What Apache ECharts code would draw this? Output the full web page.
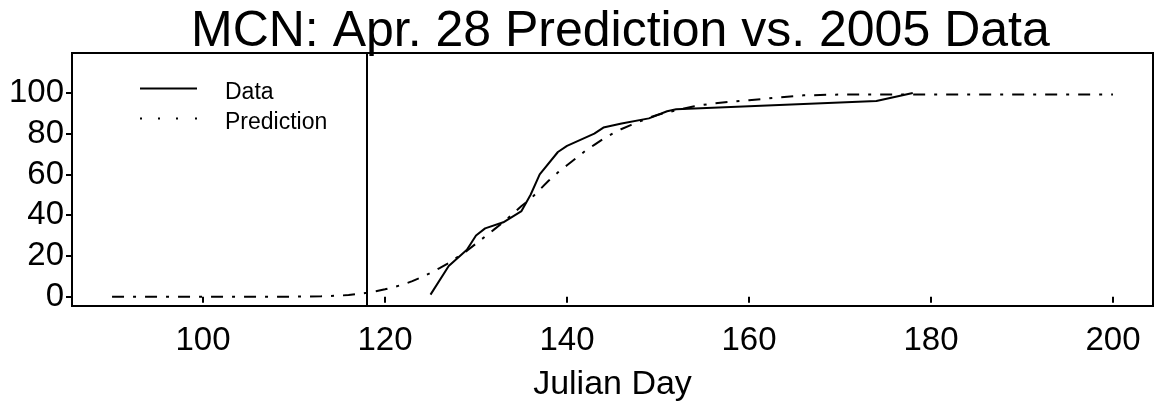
<!DOCTYPE html>
<html>
<head>
<meta charset="utf-8">
<script src="https://cdn.jsdelivr.net/npm/echarts@6/dist/echarts.min.js"></script>
<style>
  html, body { margin: 0; padding: 0; background: #fff; }
  #chart { width: 1158px; height: 412px; }
</style>
</head>
<body>
<div id="chart"></div>
<script>
// ---- data ----
const titleText = 'MCN: Apr. 28 Prediction vs. 2005 Data';
const xAxisTitle = 'Julian Day';
const seriesNames = ['Data', 'Prediction'];
const xTicks = [100, 120, 140, 160, 180, 200];
const yTicks = [0, 20, 40, 60, 80, 100];
const markerDay = 118;

// observed 2005 passage (Julian day, cumulative %)
const dataDays = [125, 127, 129, 130, 131, 133, 135, 136, 137, 139, 140, 143, 144, 146, 149, 151, 152, 174, 178];
const dataVals = [1, 15, 23, 30, 33.5, 36.5, 42, 50, 60, 71, 74, 80, 83, 85, 87.5, 91, 92, 96, 100];

// Apr. 28 prediction (Julian day, cumulative %)
const predDays = [90, 100, 110, 113, 115, 116, 117, 118, 119, 120, 121, 122, 123, 124, 125, 126, 127, 128, 129, 130,
                  131, 132, 133, 134, 135, 136, 137, 138, 139, 140, 141, 142, 143, 144, 145, 146, 147, 148, 149, 150,
                  152, 154, 156, 158, 160, 163, 166, 170, 180, 190, 200];
const predVals = [0, 0, 0, 0.2, 0.5, 0.8, 1.3, 1.9, 2.6, 3.6, 4.7, 6, 7.6, 9.5, 11.6, 14, 16.5, 19.5, 22.5, 26,
                  29.5, 33, 36.5, 40.5, 44.5, 48, 52.5, 57, 61, 64.5, 68, 71.5, 74.5, 77.5, 80, 82.3, 84.2, 86, 87.8, 89.3,
                  91.5, 93.5, 94.8, 95.7, 96.4, 97.7, 98.8, 99.2, 99.2, 99.2, 99.2];

const dataSeries = dataDays.map((d, i) => [d, dataVals[i]]);
const predSeries = predDays.map((d, i) => [d, predVals[i]]);

const regular = '"Liberation Sans", Arial, sans-serif';

const chart = echarts.init(document.getElementById('chart'), null, { renderer: 'canvas' });
chart.setOption({
  animation: false,
  backgroundColor: '#fff',
  title: {
    text: titleText,
    left: 191,
    top: 7,
    padding: 0,
    textStyle: { fontFamily: regular, fontSize: 50, fontWeight: 'normal', color: '#000', lineHeight: 50 }
  },
  legend: {
    orient: 'vertical',
    left: 140,
    top: 81,
    padding: 0,
    itemWidth: 57,
    itemHeight: 12,
    itemGap: 6,
    selectedMode: false,
    textStyle: { fontFamily: regular, fontSize: 23, color: '#000', lineHeight: 24, padding: [0, 0, 0, 23] },
    data: [
      { name: seriesNames[0], icon: 'path://M0,0h57v2h-57zM0,11h0.01v0.01h-0.01z', itemStyle: { color: '#000' } },
      { name: seriesNames[1], icon: 'path://M0,0h2v2h-2zM18,0h2v2h-2zM36,0h2v2h-2zM55,0h2v2h-2zM0,11h0.01v0.01h-0.01z', itemStyle: { color: '#000' } }
    ]
  },
  grid: {
    left: 72, right: 5, top: 53, bottom: 106,
    show: true, borderColor: '#000', borderWidth: 2, backgroundColor: 'transparent'
  },
  xAxis: {
    type: 'value',
    min: 85.6,
    max: 204.4,
    splitLine: { show: false },
    axisLine: { show: false },
    axisTick: { show: true, customValues: xTicks, length: 6, lineStyle: { color: '#000', width: 2 } },
    axisLabel: { customValues: xTicks, margin: 18, fontFamily: regular, fontSize: 33, color: '#000', lineHeight: 33 },
    name: xAxisTitle,
    nameLocation: 'middle',
    nameGap: 62,
    nameTextStyle: { fontFamily: regular, fontSize: 34, color: '#000' }
  },
  yAxis: {
    type: 'value',
    min: -4.6,
    max: 119.6,
    splitLine: { show: false },
    axisLine: { show: false },
    axisTick: { show: true, customValues: yTicks, length: 6, lineStyle: { color: '#000', width: 2 } },
    axisLabel: { customValues: yTicks, margin: 8, fontFamily: regular, fontSize: 33, color: '#000' }
  },
  series: [
    {
      name: seriesNames[0],
      type: 'line',
      data: dataSeries,
      symbol: 'none',
      showSymbol: false,
      lineStyle: { color: '#000', width: 2, type: 'solid' },
      itemStyle: { color: '#000' },
      z: 3,
      markLine: {
        silent: true,
        symbol: ['none', 'none'],
        label: { show: false },
        lineStyle: { color: '#000', width: 2, type: 'solid' },
        data: [{ xAxis: markerDay }]
      }
    },
    {
      name: seriesNames[1],
      type: 'line',
      data: predSeries,
      symbol: 'none',
      showSymbol: false,
      lineStyle: { color: '#000', width: 2, type: [12, 9, 3, 9] },
      itemStyle: { color: '#000' },
      z: 2
    }
  ]
});
</script>
</body>
</html>
